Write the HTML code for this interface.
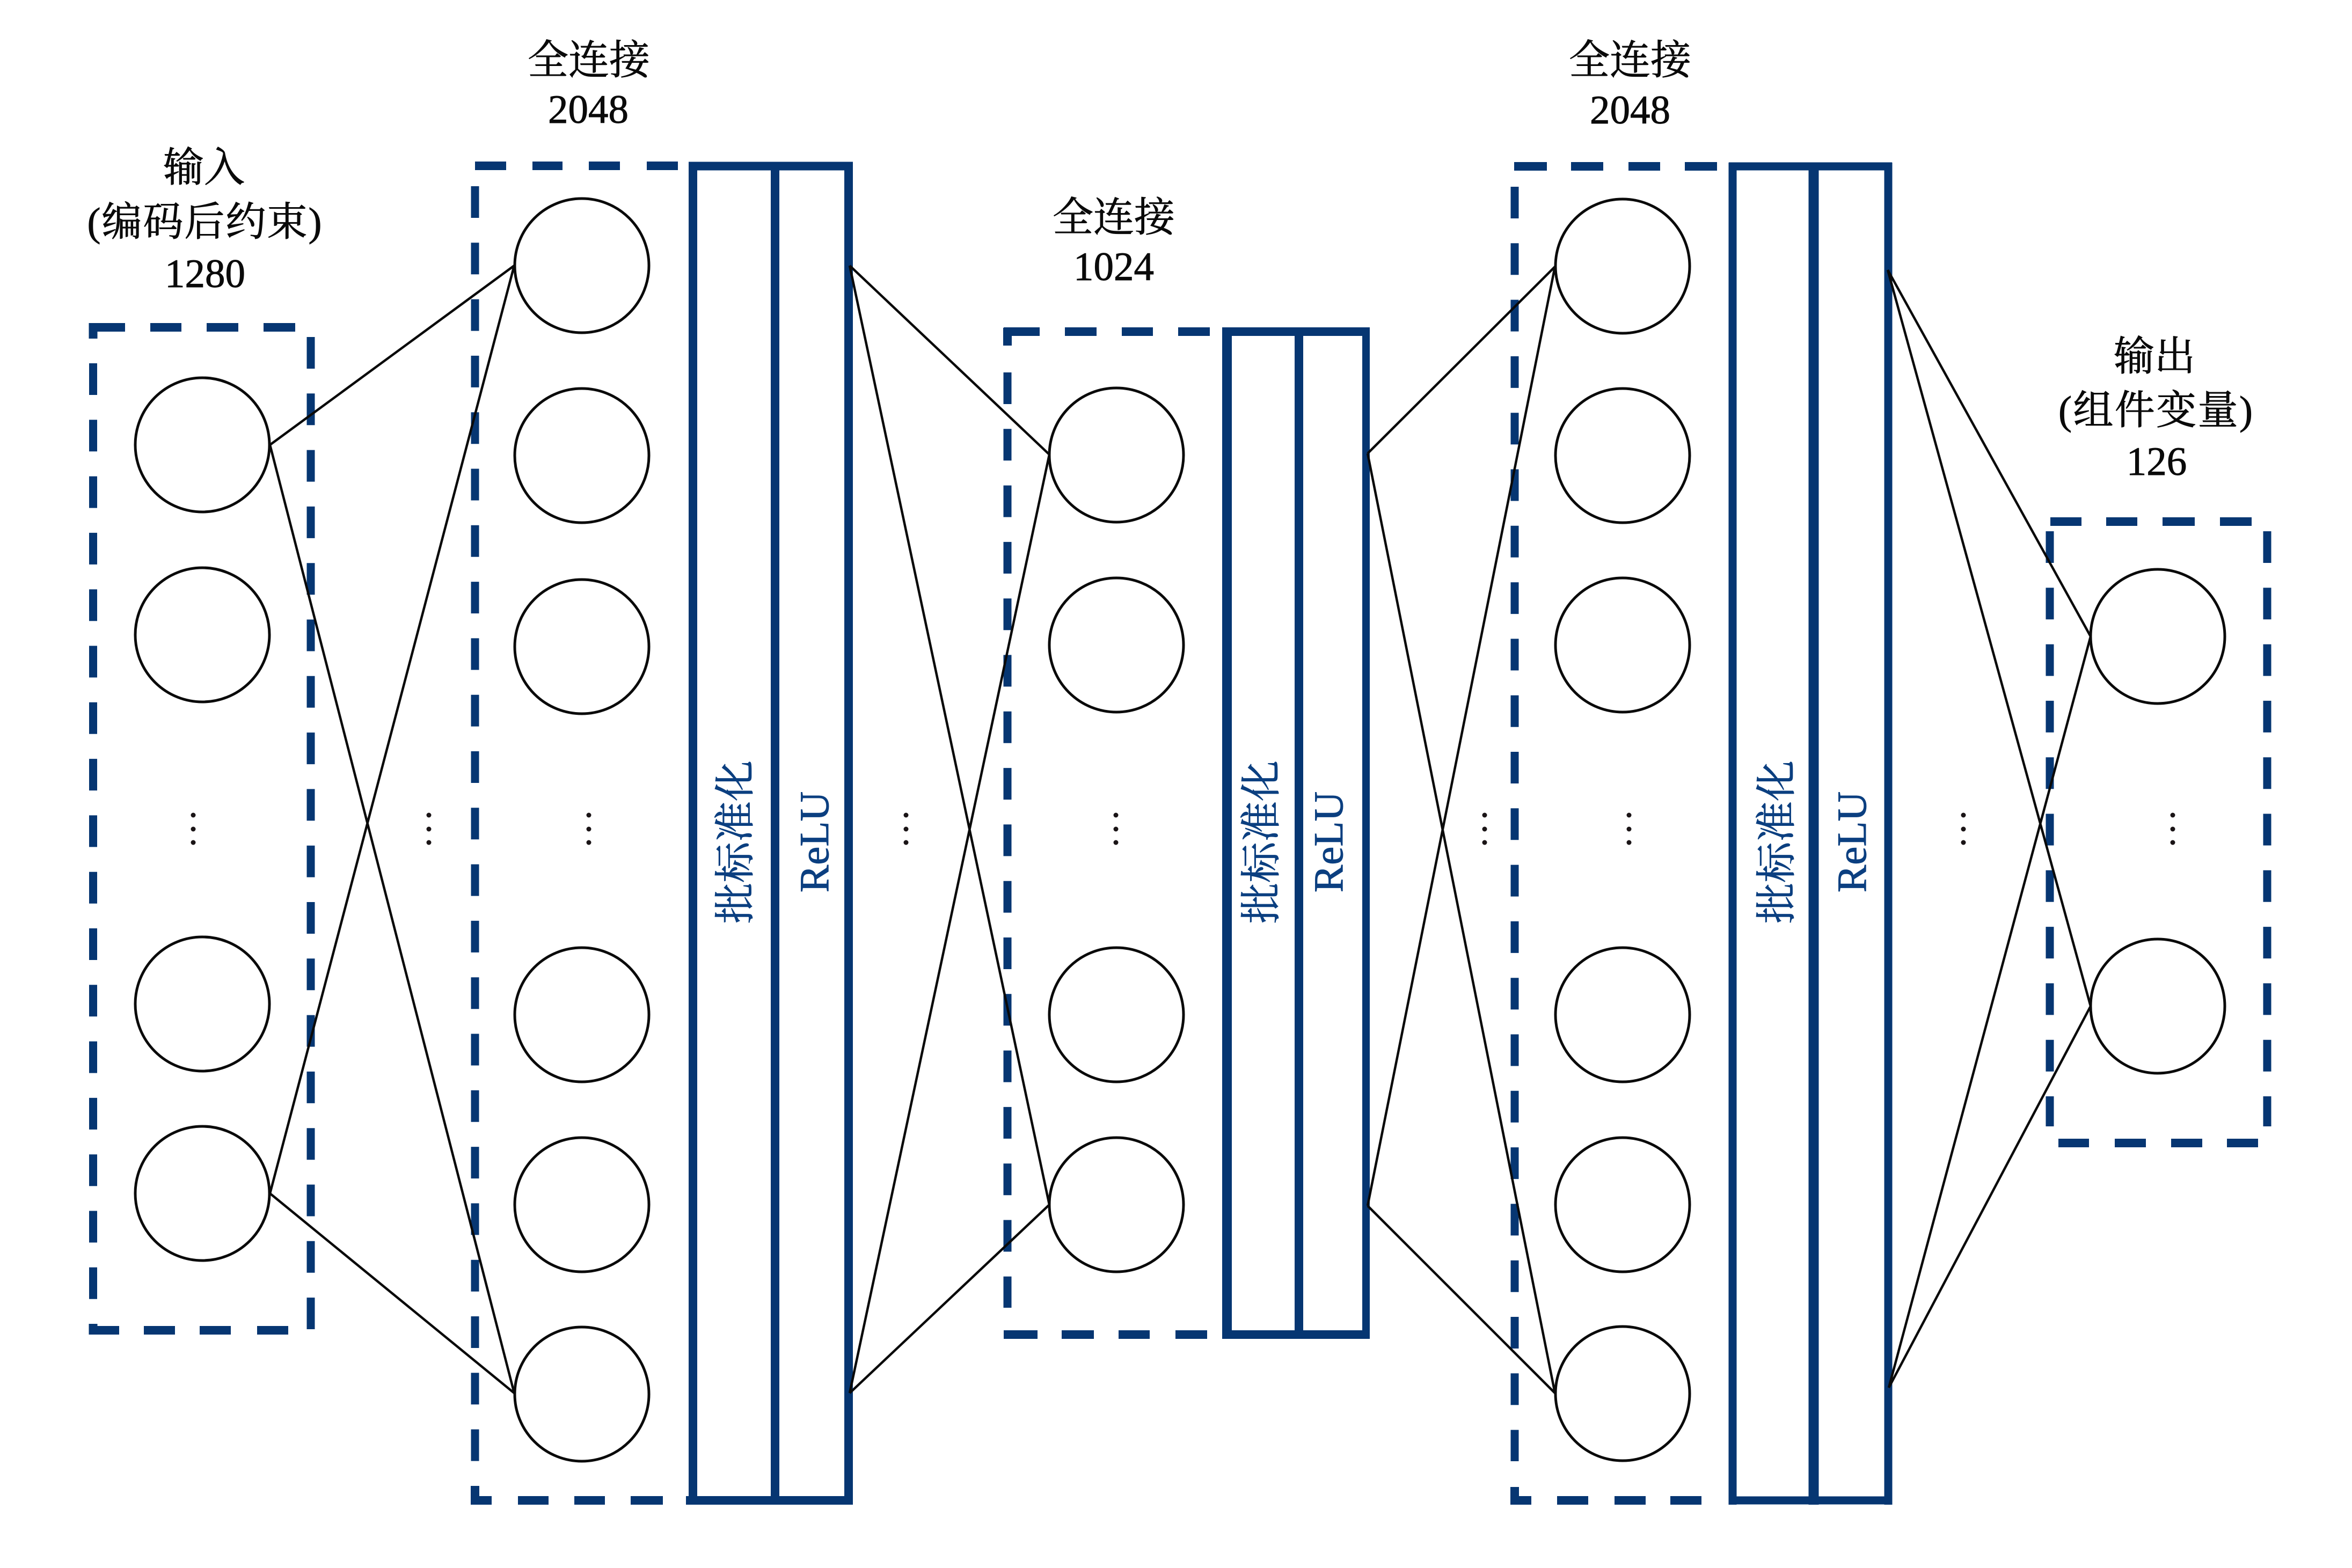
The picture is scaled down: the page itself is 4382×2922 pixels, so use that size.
<!DOCTYPE html>
<html lang="zh">
<head>
<meta charset="utf-8">
<title>Network diagram</title>
<style>
html,body{margin:0;padding:0;background:#fff;width:4382px;height:2922px;overflow:hidden}
svg{display:block}
.l{font-family:"Liberation Serif","Noto Serif CJK SC",serif;font-size:75px;fill:#0a0a0a;stroke:#0a0a0a;stroke-width:.9;text-anchor:middle}
.c{font-size:76px}
.r{font-family:"Liberation Serif","Noto Serif CJK SC",serif;fill:#0b3f80;stroke:#0b3f80;stroke-width:.9;text-anchor:middle}
</style>
</head>
<body>
<svg width="4382" height="2922" viewBox="0 0 4382 2922" xmlns="http://www.w3.org/2000/svg">
<rect width="4382" height="2922" fill="#fff"/>

<!-- dashed boxes: vertical -->
<g fill="none" stroke="#063672" stroke-width="15" stroke-dasharray="59 46.3">
<path d="M173.5 677V2421"/>
<path d="M579 628V2477"/>
<path d="M885 347V2723"/>
<path d="M1877 694V2437"/>
<path d="M2822 348V2723"/>
<path d="M3819 990V2099"/>
<path d="M4224 990V2099"/>
</g>
<!-- dashed boxes: horizontal and corners -->
<g fill="none" stroke="#063672" stroke-width="16">
<path d="M166 610H233M280 610H338M385 610H444M491 610H550"/>
<path d="M173.5 602V631"/>
<path d="M166 2479H222M268 2479H326M372 2479H430M479 2479H537"/>
<path d="M173.5 2467V2487"/>
<path d="M885 309H943M992 309H1048M1097 309H1155M1205 309H1263"/>
<path d="M878 2796H916M965 2796H1022M1070 2796H1127M1175 2796H1235"/>
<path d="M885 2769V2804"/>
<path d="M1870 618H1937M1984 618H2043M2090 618H2148M2195 618H2254"/>
<path d="M1877 611V644"/>
<path d="M1870 2487H1933M1978 2487H2038M2084 2487H2142M2190 2487H2249"/>
<path d="M2821 310H2882M2927 310H2987M3034 310H3093M3139 310H3199"/>
<path d="M2816 2796H2853M2901 2796H2959M3008 2796H3066M3112 2796H3170"/>
<path d="M2822 2771V2804"/>
<path d="M3820 972H3878M3924 972H3982M4029 972H4089M4136 972H4195"/>
<path d="M3835 2130H3892M3940 2130H3998M4045 2130H4103M4149 2130H4207"/>
</g>

<!-- solid bars -->
<g fill="none" stroke="#063672">
<g stroke-width="16">
<path d="M1283 309.5H1589M1278 2796H1589"/>
<path d="M1291 302V2804M1444 302V2804M1581 302V2804"/>
</g>
<g stroke-width="16">
<path d="M2277 618H2552M2277 2487H2552"/>
<path d="M2420 611V2495"/>
</g>
<path d="M2286 611V2495" stroke-width="18"/>
<path d="M2545 611V2495" stroke-width="14"/>
<g stroke-width="15">
<path d="M3221 310H3525M3221 2796H3525"/>
<path d="M3228 303V2804"/>
<path d="M3518 303V2804"/>
</g>
<path d="M3379 303V2804" stroke-width="19"/>
</g>

<!-- nodes -->
<g fill="none" stroke="#0a0a0a" stroke-width="5">
<circle cx="377" cy="829" r="125"/>
<circle cx="377" cy="1183" r="125"/>
<circle cx="377" cy="1871" r="125"/>
<circle cx="377" cy="2224" r="125"/>
<circle cx="1084" cy="495" r="125"/>
<circle cx="1084" cy="849" r="125"/>
<circle cx="1084" cy="1205" r="125"/>
<circle cx="1084" cy="1891" r="125"/>
<circle cx="1084" cy="2245" r="125"/>
<circle cx="1084" cy="2598" r="125"/>
<circle cx="2080" cy="848" r="125"/>
<circle cx="2080" cy="1202" r="125"/>
<circle cx="2080" cy="1891" r="125"/>
<circle cx="2080" cy="2245" r="125"/>
<circle cx="3023" cy="496" r="125"/>
<circle cx="3023" cy="849" r="125"/>
<circle cx="3023" cy="1202" r="125"/>
<circle cx="3023" cy="1891" r="125"/>
<circle cx="3023" cy="2245" r="125"/>
<circle cx="3023" cy="2597" r="125"/>
<circle cx="4020" cy="1186" r="125"/>
<circle cx="4020" cy="1875" r="125"/>
</g>

<!-- connectors -->
<g fill="none" stroke="#0a0a0a" stroke-width="4.5">
<path d="M503 829L958 495M503 829L958 2596M503 2224L958 495M503 2224L958 2596"/>
<path d="M1583 495L1955 847M1583 495L1955 2245M1583 2596L1955 847M1583 2596L1955 2245"/>
<path d="M2548 845L2897 497M2548 845L2897 2596M2548 2247L2897 497M2548 2247L2897 2596"/>
<path d="M3517 503L3895 1186M3517 503L3895 1875M3519 2586L3895 1186M3519 2586L3895 1875"/>
</g>

<!-- ellipsis dots -->
<g fill="#1a1416">
<circle cx="360" cy="1519" r="4.5"/><circle cx="360" cy="1545" r="4.5"/><circle cx="360" cy="1570" r="4.5"/>
<circle cx="799" cy="1519" r="4.5"/><circle cx="799" cy="1545" r="4.5"/><circle cx="799" cy="1570" r="4.5"/>
<circle cx="1097" cy="1519" r="4.5"/><circle cx="1097" cy="1545" r="4.5"/><circle cx="1097" cy="1570" r="4.5"/>
<circle cx="1688" cy="1519" r="4.5"/><circle cx="1688" cy="1545" r="4.5"/><circle cx="1688" cy="1570" r="4.5"/>
<circle cx="2079" cy="1519" r="4.5"/><circle cx="2079" cy="1545" r="4.5"/><circle cx="2079" cy="1570" r="4.5"/>
<circle cx="2766" cy="1519" r="4.5"/><circle cx="2766" cy="1545" r="4.5"/><circle cx="2766" cy="1570" r="4.5"/>
<circle cx="3035" cy="1519" r="4.5"/><circle cx="3035" cy="1545" r="4.5"/><circle cx="3035" cy="1570" r="4.5"/>
<circle cx="3658" cy="1519" r="4.5"/><circle cx="3658" cy="1545" r="4.5"/><circle cx="3658" cy="1570" r="4.5"/>
<circle cx="4048" cy="1519" r="4.5"/><circle cx="4048" cy="1545" r="4.5"/><circle cx="4048" cy="1570" r="4.5"/>
</g>

<!-- labels -->
<text class="l c" x="380" y="338">输入</text>
<text class="l" x="381" y="439" textLength="437">(编码后约束)</text>
<text class="l" x="382" y="535">1280</text>
<text class="l c" x="1097" y="138">全连接</text>
<text class="l" x="1096" y="229">2048</text>
<text class="l c" x="2075" y="431">全连接</text>
<text class="l" x="2075" y="522">1024</text>
<text class="l c" x="3037" y="138">全连接</text>
<text class="l" x="3037" y="230">2048</text>
<text class="l c" x="4014" y="690">输出</text>
<text class="l" x="4016" y="790" textLength="362">(组件变量)</text>
<text class="l" x="4018" y="885">126</text>

<!-- rotated labels -->
<text class="r" font-size="76" transform="translate(1396 1569) rotate(-90)">批标准化</text>
<text class="r" font-size="77" transform="translate(1543 1569) rotate(-90)">ReLU</text>
<text class="r" font-size="76" transform="translate(2376 1569) rotate(-90)">批标准化</text>
<text class="r" font-size="77" transform="translate(2501 1569) rotate(-90)">ReLU</text>
<text class="r" font-size="76" transform="translate(3336 1569) rotate(-90)">批标准化</text>
<text class="r" font-size="77" transform="translate(3476 1569) rotate(-90)">ReLU</text>
</svg>
</body>
</html>
